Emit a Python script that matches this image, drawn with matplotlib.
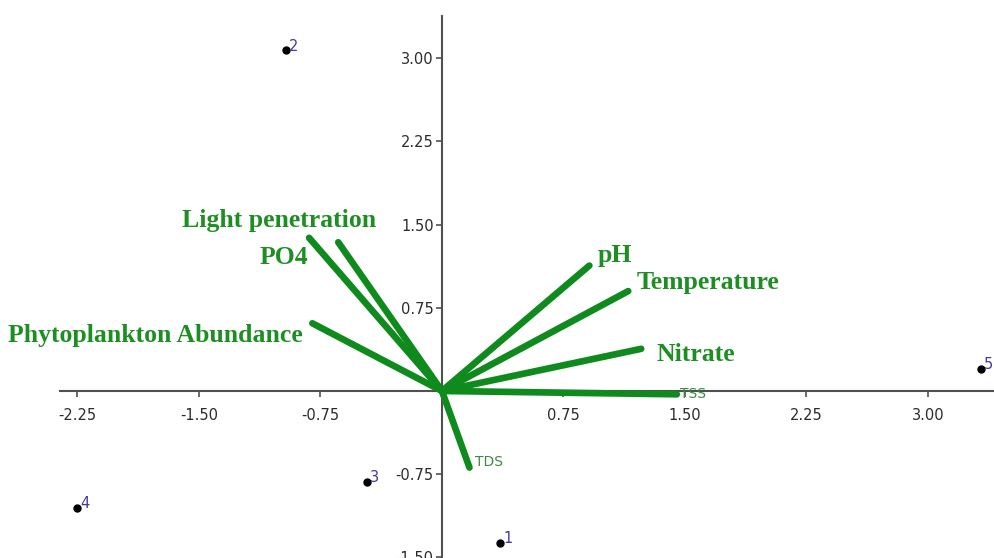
import matplotlib
matplotlib.use("Agg")
import matplotlib.pyplot as plt

# ---------------------------- Data -----------------------------------
site_ids = ["1", "2", "3", "4", "5"]
site_pc1 = [0.36, -0.96, -0.46, -2.25, 3.33]
site_pc2 = [-1.37, 3.07, -0.82, -1.05, 0.20]

var_names = ["Light penetration", "PO4", "Phytoplankton Abundance", "pH",
             "Temperature", "Nitrate", "TSS", "TDS"]
var_pc1 = [-0.64, -0.82, -0.80, 0.91, 1.15, 1.23, 1.45, 0.17]
var_pc2 = [1.34, 1.38, 0.61, 1.13, 0.90, 0.38, -0.03, -0.69]

x_ticks = [-2.25, -1.50, -0.75, 0.75, 1.50, 2.25, 3.00]
y_ticks = [-1.50, -0.75, 0.75, 1.50, 2.25, 3.00]

# ---------------------------- Style ----------------------------------
plt.rcParams["axes.unicode_minus"] = False
LINE_GREEN = "#0f8a1c"
TEXT_GREEN = "#1d8f22"
AXIS_GRAY = "#505050"

# label offsets in points: (dx, dy, ha, big)
label_style = {
    "Light penetration": (27, 16, "right", True),
    "PO4": (-1, -14, "right", True),
    "Phytoplankton Abundance": (-7, -9, "right", True),
    "pH": (6, 7, "left", True),
    "Temperature": (6, 6, "left", True),
    "Nitrate": (11, -4, "left", True),
    "TSS": (2, 0, "left", False),
    "TDS": (4, 4, "left", False),
}

fig = plt.figure(figsize=(9.95, 5.58), dpi=100)
ax = fig.add_axes([0, 0, 1, 1])
ax.set_xlim(-2.728, 3.414)
ax.set_ylim(-1.505, 3.523)

for s in ("top", "right"):
    ax.spines[s].set_visible(False)
ax.spines["left"].set_position("zero")
ax.spines["bottom"].set_position("zero")
ax.spines["left"].set_bounds(-1.505, 3.38)
ax.spines["bottom"].set_bounds(-2.36, 3.414)
for s in ("left", "bottom"):
    ax.spines[s].set_color(AXIS_GRAY)
    ax.spines[s].set_linewidth(1.5)
    ax.spines[s].set_zorder(1)

ax.set_xticks(x_ticks)
ax.set_yticks(y_ticks)
ax.set_xticklabels([f"{t:.2f}" for t in x_ticks])
ax.set_yticklabels([f"{t:.2f}" for t in y_ticks])
ax.tick_params(axis="both", direction="out", length=4, width=1.2,
               color=AXIS_GRAY, labelcolor="#2b2b2b", labelsize=10.5)
ax.tick_params(axis="x", pad=8)
ax.tick_params(axis="y", pad=2)

# loading vectors
for name, px, py in zip(var_names, var_pc1, var_pc2):
    ax.plot([0, px], [0, py], color=LINE_GREEN, lw=4.8,
            solid_capstyle="round", zorder=3)
    dx, dy, ha, big = label_style[name]
    if big:
        ax.annotate(name, (px, py), xytext=(dx, dy), textcoords="offset points",
                    ha=ha, va="center", fontsize=18.5, fontweight="bold",
                    family="Liberation Serif", color=TEXT_GREEN, zorder=4)
    else:
        ax.annotate(name, (px, py), xytext=(dx, dy), textcoords="offset points",
                    ha=ha, va="center", fontsize=10, color="#3c8a44", zorder=4)

# site scores
ax.plot(site_pc1, site_pc2, "o", color="black", ms=5, zorder=5)
for sid, sx, sy in zip(site_ids, site_pc1, site_pc2):
    ax.annotate(sid, (sx, sy), xytext=(2, 3), textcoords="offset points",
                ha="left", va="center", fontsize=10.5, color="#3b3aa8", zorder=5)

fig.savefig("out.png", dpi=100)
